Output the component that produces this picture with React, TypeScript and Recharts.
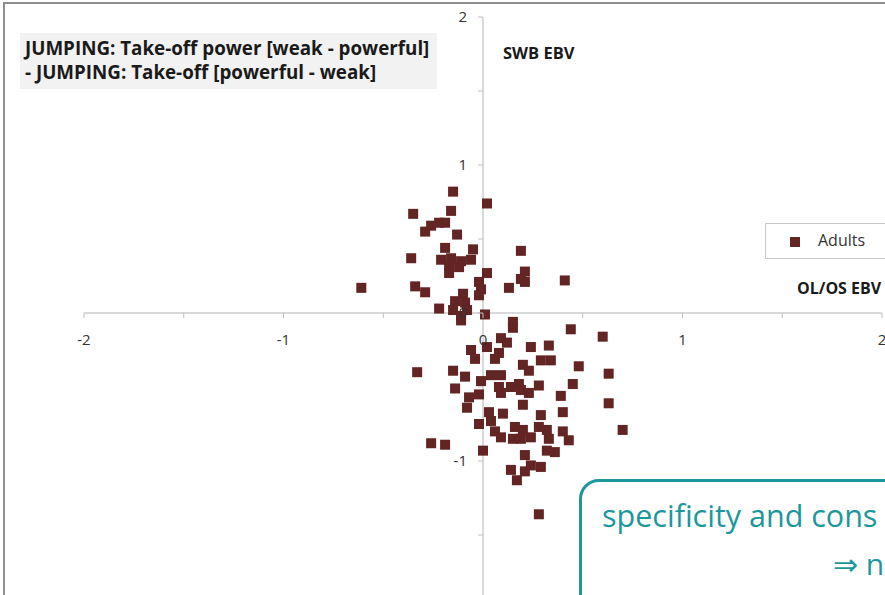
import { Legend, ReferenceLine, Scatter, ScatterChart, XAxis, YAxis } from "recharts"

const adultsX = [
    -0.15, 0.02, -0.35, -0.16, -0.26, -0.22, -0.19, -0.29, -0.13, -0.19, -0.05, -0.36, 0.19, -0.21, -0.16, -0.11,
    -0.06, -0.17, -0.12, -0.17, 0.02, 0.21, 0.19, 0.21, 0.41, -0.61, -0.34, -0.29, 0.13, -0.02, -0.01, -0.02,
    -0.1, -0.14, -0.09, -0.15, -0.08, -0.22, 0.01, -0.11, -0.11,
    0.15, 0.15, 0.44, 0.6, 0.09, 0.12, 0.02, -0.06, -0.04, 0.08, 0.06, 0.24, 0.33, 0.29, 0.34, 0.2, 0.23, 0.48,
    -0.33, -0.15, -0.09, 0.04, 0.09, 0.63, -0.01, 0.08, 0.09, 0.14, 0.18, 0.19, 0.23, 0.28, 0.45, -0.14, -0.07,
    -0.02, 0.39, 0.63, -0.08, 0.2, 0.03, 0.1, 0.29, 0.4, -0.02, 0.04, 0.06, 0.09, 0.16, 0.2, 0.15, 0.19, 0.24,
    0.28, 0.32, 0.33, 0.4, 0.43, 0.7, -0.26, -0.19, 0.0, 0.32, 0.36, 0.21, 0.24, 0.29, 0.14, 0.21, 0.17, 0.28,
]
const adultsY = [
    0.82, 0.74, 0.67, 0.69, 0.59, 0.61, 0.61, 0.55, 0.53, 0.44, 0.43, 0.37, 0.42, 0.36, 0.37, 0.35,
    0.36, 0.27, 0.31, 0.32, 0.27, 0.28, 0.23, 0.21, 0.22, 0.17, 0.18, 0.14, 0.17, 0.21, 0.16, 0.12,
    0.13, 0.08, 0.07, 0.02, 0.02, 0.03, -0.01, -0.02, -0.05,
    -0.06, -0.1, -0.11, -0.16, -0.17, -0.2, -0.23, -0.25, -0.31, -0.27, -0.31, -0.23, -0.22, -0.32, -0.32, -0.35, -0.39, -0.36,
    -0.4, -0.39, -0.43, -0.42, -0.42, -0.41, -0.46, -0.5, -0.54, -0.5, -0.48, -0.52, -0.54, -0.49, -0.48, -0.51, -0.57,
    -0.55, -0.56, -0.61, -0.64, -0.62, -0.67, -0.68, -0.69, -0.67, -0.75, -0.73, -0.8, -0.84, -0.77, -0.79, -0.85, -0.85, -0.84,
    -0.77, -0.79, -0.85, -0.8, -0.86, -0.79, -0.88, -0.89, -0.93, -0.93, -0.94, -0.96, -1.03, -1.04, -1.06, -1.07, -1.13, -1.36,
]
const axisTicks = [-2, -1.5, -1, -0.5, 0, 0.5, 1, 1.5, 2]

const data = adultsX.map((x, i) => ({ x, y: adultsY[i] }))

const W = 960
const H = 640
const M = { top: 17, right: 78, bottom: 30, left: 83 }
// plot area: x 84..882, y 17..609 (axes cross at the origin)
const PLOT_LEFT = M.left + 1
const PLOT_BOTTOM = H - M.bottom - 1
const ORIGIN_X = PLOT_LEFT + (W - M.right - PLOT_LEFT) / 2
const ORIGIN_Y = M.top + (PLOT_BOTTOM - M.top) / 2
const FONT = "'Open Sans', sans-serif"

function XTick(props: any) {
    const { x, payload } = props
    const v = payload.value
    return (
        <g>
            <line x1={x} y1={ORIGIN_Y} x2={x} y2={ORIGIN_Y + 5} stroke="#bfbfbf" />
            {Number.isInteger(v) && (
                <text x={x} y={ORIGIN_Y + 32} textAnchor="middle" fontSize={15} fill="#333" fontFamily={FONT}>
                    {v}
                </text>
            )}
        </g>
    )
}

function YTick(props: any) {
    const { y, payload } = props
    const v = payload.value
    // the -2 label falls below the visible frame
    return (
        <g>
            <line x1={ORIGIN_X - 5} y1={y} x2={ORIGIN_X} y2={y} stroke="#bfbfbf" />
            {Number.isInteger(v) && v > -2 && (
                <text x={ORIGIN_X - 16} y={y + 5} textAnchor="end" fontSize={15} fill="#333" fontFamily={FONT}>
                    {v}
                </text>
            )}
        </g>
    )
}

function SquareDot(props: any) {
    const { cx, cy, fill } = props
    return <rect x={cx - 5} y={cy - 5} width={10} height={10} fill={fill} />
}

export default function App() {
    return (
        <div style={{ position: "absolute", left: 0, top: 0, width: 885, height: 595, overflow: "hidden", background: "#fff", fontFamily: FONT }}>
            <div style={{ position: "absolute", left: 3, top: 2, width: 1000, height: 700, border: "2px solid #8f8f8f" }} />
            <div style={{ position: "absolute", left: 0, top: 0 }}>
                <ScatterChart width={W} height={H} margin={M}>
                    <XAxis type="number" dataKey="x" domain={[-2, 2]} ticks={axisTicks} interval={0} height={1}
                        axisLine={false} tickLine={false} tick={<XTick />} />
                    <YAxis type="number" dataKey="y" domain={[-2, 2]} ticks={axisTicks} interval={0} width={1}
                        axisLine={false} tickLine={false} tick={<YTick />} />
                    <ReferenceLine x={0} stroke="#d9d9d9" strokeWidth={2} />
                    <ReferenceLine y={0} stroke="#d9d9d9" strokeWidth={2} />
                    <Legend layout="vertical" align="center" verticalAlign="middle" iconType="square" iconSize={10}
                        formatter={(value) => <span style={{ color: "#333", marginLeft: 14 }}>{value}</span>}
                        wrapperStyle={{ left: 765, top: 223, width: 140, height: 36, border: "1px solid #c8c8c8", background: "#fff",
                            boxSizing: "border-box", paddingTop: 5, paddingLeft: 24, fontSize: 16, fontFamily: FONT }} />
                    <Scatter name="Adults" data={data} fill="#632523" shape={<SquareDot />} isAnimationActive={false} />
                </ScatterChart>
            </div>
            <div style={{ position: "absolute", left: 20, top: 33, width: 417, height: 56, background: "#f2f2f2", boxSizing: "border-box",
                padding: "3px 5px", fontWeight: 700, fontSize: 18.8, lineHeight: "24px", color: "#1a1a1a", whiteSpace: "nowrap" }}>
                <div>JUMPING: Take-off power [weak - powerful]</div>
                <div>- JUMPING: Take-off [powerful - weak]</div>
            </div>
            <div style={{ position: "absolute", left: 503, top: 41, fontWeight: 700, fontSize: 16.5, color: "#1a1a1a" }}>SWB EBV</div>
            <div style={{ position: "absolute", left: 797, top: 277, fontWeight: 700, fontSize: 16, color: "#1a1a1a", whiteSpace: "nowrap" }}>OL/OS EBV</div>
            <div style={{ position: "absolute", left: 579, top: 479, width: 420, height: 140, border: "3px solid #1c979e", borderRadius: 20,
                boxSizing: "border-box", background: "#fff" }} />
            <div style={{ position: "absolute", left: 602, top: 494, fontSize: 30.5, color: "#1c979e", whiteSpace: "nowrap" }}>specificity and cons</div>
            <div style={{ position: "absolute", left: 833, top: 543, fontSize: 30, color: "#1c979e", whiteSpace: "nowrap" }}>⇒ n</div>
        </div>
    )
}
